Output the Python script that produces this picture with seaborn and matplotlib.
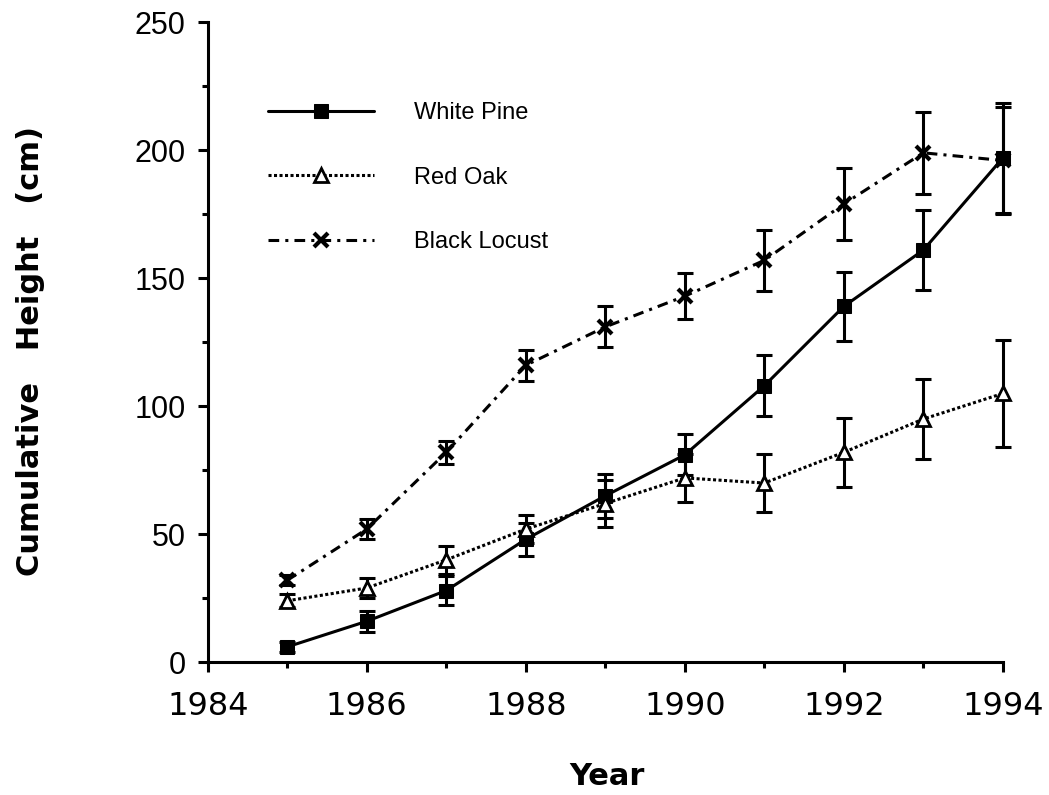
import numpy as np
import pandas as pd
import matplotlib
matplotlib.use("Agg")
import matplotlib.pyplot as plt
import seaborn as sns

# --- data ---
years = [1985, 1986, 1987, 1988, 1989, 1990, 1991, 1992, 1993, 1994]
species = ["White Pine", "Red Oak", "Black Locust"]

white_pine = [6, 16, 28, 48, 65, 81, 108, 139, 161, 197]
white_pine_err = [2, 4, 5.5, 6.5, 8.5, 8, 12, 13.5, 15.5, 21.5]

red_oak = [24, 29, 40, 52, 62, 72, 70, 82, 95, 105]
red_oak_err = [2.5, 4, 5.5, 5.5, 9, 9.5, 11.5, 13.5, 15.5, 21]

black_locust = [32, 52, 82, 116, 131, 143, 157, 179, 199, 196]
black_locust_err = [2, 4, 4.5, 6, 8, 9, 12, 14, 16, 21]

df = pd.DataFrame({
    "Year": years * 3,
    "Height": white_pine + red_oak + black_locust,
    "err": white_pine_err + red_oak_err + black_locust_err,
    "species": np.repeat(species, len(years)),
})

sns.set_theme(style="ticks")
plt.rcParams["font.family"] = ["Liberation Sans", "DejaVu Sans"]
plt.rcParams["text.color"] = "black"
plt.rcParams["axes.labelcolor"] = "black"

fig = plt.figure(figsize=(10.49, 7.95), dpi=100)
ax = fig.add_axes([0.198, 0.167, 0.758, 0.805])

styles = {
    "White Pine": dict(linestyle="-", marker="s", markerfacecolor="black",
                       markersize=9.5, linewidth=2.2),
    "Red Oak": dict(linestyle=(0, (1, 0.8)), marker="^", markerfacecolor="white",
                    markersize=9.5, linewidth=2.2, markeredgewidth=2),
    "Black Locust": dict(linestyle=(0, (3.5, 2, 1, 2)), marker="x", markersize=10,
                         linewidth=2.2, markeredgewidth=3),
}

for sp in species:
    d = df[df["species"] == sp]
    eb = ax.errorbar(d["Year"], d["Height"], yerr=d["err"], fmt="none", ecolor="black",
                     elinewidth=2.2, capsize=6, capthick=2.2, zorder=2)
    for art in eb.lines[1] + eb.lines[2]:
        art.set_clip_on(False)
    sns.lineplot(data=d, x="Year", y="Height", ax=ax, color="black",
                 markeredgecolor="black", label=sp, zorder=3, clip_on=False, **styles[sp])

ax.set_xlim(1984, 1994)
ax.set_ylim(0, 250)
ax.set_xticks(range(1984, 1995, 2))
ax.set_xticks(range(1985, 1995, 2), minor=True)
ax.set_yticks(range(0, 251, 50))
ax.set_yticks(range(25, 250, 50), minor=True)
sns.despine(ax=ax)
for s in ["left", "bottom"]:
    ax.spines[s].set_linewidth(2.2)
    ax.spines[s].set_color("black")
ax.tick_params(axis="both", which="major", width=2.2, color="black", labelcolor="black")
ax.tick_params(axis="both", which="minor", width=2.2, length=4.5, color="black")
ax.tick_params(axis="x", which="major", length=7.5, pad=13, labelsize=23)
ax.tick_params(axis="y", which="major", length=7, pad=9, labelsize=22)
for lab in ax.get_xticklabels():
    lab.set_fontfamily("DejaVu Sans")

ax.set_xlabel("Year", fontsize=22, fontweight="bold", fontfamily="DejaVu Sans")
ax.xaxis.set_label_coords(0.502, -0.156)
ax.set_ylabel("Cumulative   Height   (cm)", fontsize=22, fontweight="bold",
              fontfamily="DejaVu Sans")
ax.yaxis.set_label_coords(-0.205, 0.486)

leg = ax.legend(loc="upper left", bbox_to_anchor=(268 / 1049, 1 - 102 / 795),
                bbox_transform=fig.transFigure, frameon=False, fontsize=17,
                borderpad=0, borderaxespad=0, handlelength=4.5, handletextpad=1.7,
                labelspacing=1.8)
for t in leg.get_texts():
    t.set_color("black")

fig.savefig("out.png", dpi=100)
